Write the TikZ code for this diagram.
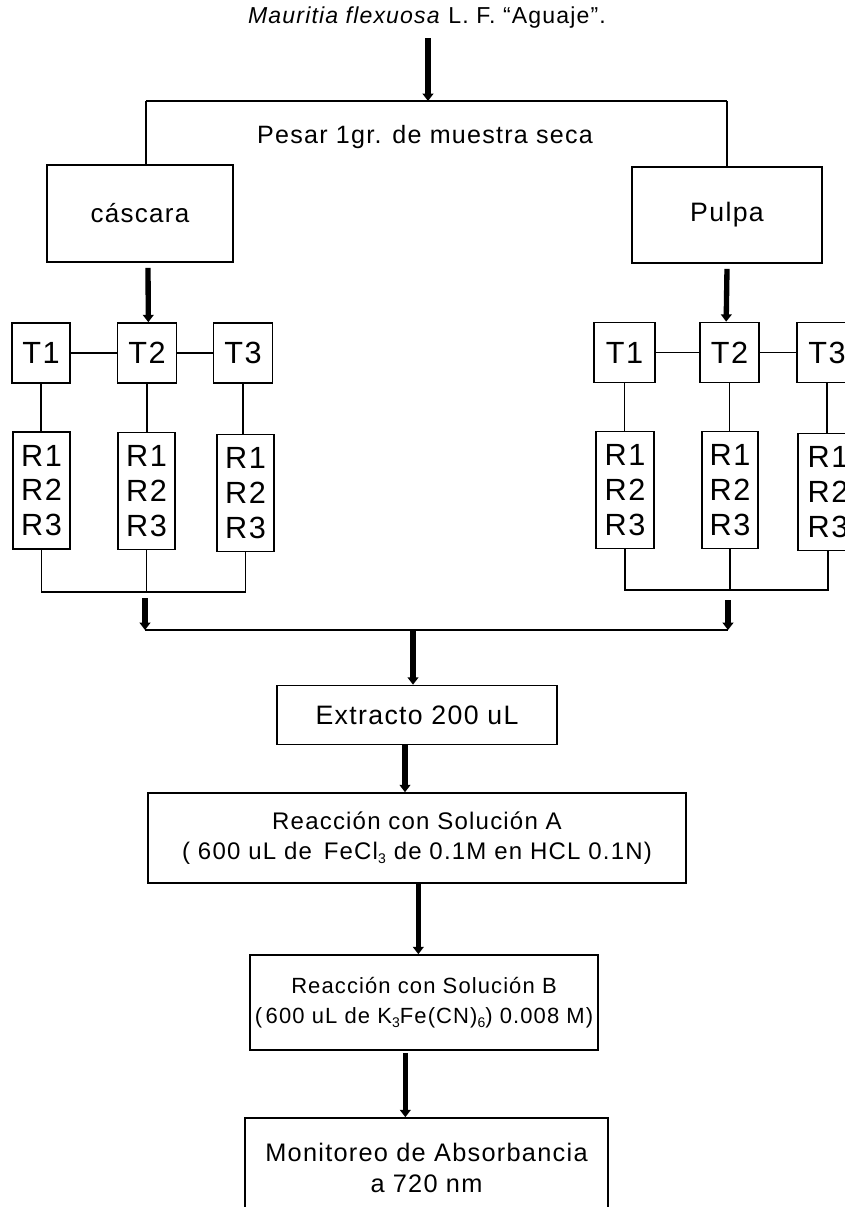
\documentclass[tikz,border=0pt]{standalone}
\usepackage{fontspec}
\setmainfont{Liberation Sans}[LetterSpace=5]
\usetikzlibrary{arrows.meta}
\newcommand\lowsub[1]{\raisebox{-0.3ex}{\fontsize{10.5}{10.5}\selectfont #1}}
\begin{document}
\begin{tikzpicture}[x=0.75pt,y=-0.75pt,
  thin line/.style={line width=1.1pt,black},
  box/.style={draw,line width=1.2pt,rectangle,inner sep=0pt,align=center,font=\fontsize{18}{23}\selectfont},
  tbox/.style={draw,line width=1.2pt,rectangle,inner sep=0pt,align=center,minimum width=59*0.75pt,minimum height=60*0.75pt,font=\fontsize{23}{26}\selectfont},
  rbox/.style={draw,line width=1.2pt,rectangle,inner sep=0pt,align=center,minimum width=57*0.75pt,minimum height=117*0.75pt,font=\fontsize{23}{26}\selectfont},
  txt/.style={inner sep=0pt,font=\fontsize{18}{23}\selectfont},
  bigarrow/.style={line width=4pt,-{Triangle[width=8pt,length=5.5pt]}}
]
\useasboundingbox (0,0) rectangle (845,1207);
\clip (0,0) rectangle (845,1207);
\fill[white] (0,0) rectangle (845,1207);

% title and top split
\node[txt,font=\fontsize{17.3}{22}\selectfont] (title) at (427,18) {\textit{Mauritia flexuosa} L. F. “Aguaje”.};
\node[txt,font=\fontsize{18.8}{23}\selectfont] (pesar) at (425,137) {Pesar 1gr. de muestra seca};
\coordinate (topL) at (146,101);
\coordinate (topR) at (727,101);
\coordinate (topM) at (428,101);

\node[box,minimum width=186*0.75pt,minimum height=97*0.75pt,font=\fontsize{19.5}{23}\selectfont] (casc) at (140,213.5) {cáscara};
\node[box,minimum width=190*0.75pt,minimum height=96*0.75pt,font=\fontsize{20}{23}\selectfont] (pulpa) at (727,215) {Pulpa};

\draw[bigarrow] (428,38) -- (topM);
\draw[thin line] (topL) -- (topR);
\draw[thin line] (topL) -- (topL |- casc.north);
\draw[thin line] (topR) -- (topR |- pulpa.north);

% left group
\node[tbox,minimum width=58*0.75pt] (LT1) at (41,353) {T1};
\node[tbox] (LT2) at (147,353) {T2};
\node[tbox] (LT3) at (243,353) {T3};
\node[rbox] (LR1) at (41.5,490.5) {R1\\R2\\R3};
\node[rbox] (LR2) at (146.5,491) {R1\\R2\\R3};
\node[rbox] (LR3) at (245.5,493) {R1\\R2\\R3};

% right group
\node[tbox,minimum width=61*0.75pt] (RT1) at (624.5,352.5) {T1};
\node[tbox] (RT2) at (729.5,352.5) {T2};
\node[tbox,minimum width=60*0.75pt] (RT3) at (827,352.5) {T3};
\node[rbox,minimum width=58*0.75pt] (RR1) at (625,490) {R1\\R2\\R3};
\node[rbox,minimum width=56*0.75pt] (RR2) at (730,490) {R1\\R2\\R3};
\node[rbox,minimum width=60*0.75pt] (RR3) at (828,492) {R1\\R2\\R3};

\draw[bigarrow] ([xshift=6]casc.south) ++(0,5) -- ([xshift=1]LT2.north);
\draw[bigarrow] (pulpa.south) ++(0,5) -- ([xshift=-2.5]RT2.north);

\foreach \g in {L,R}{
  \draw[thin line] (\g T1) -- (\g T2);
  \draw[thin line] (\g T2) -- (\g T3);
}
\draw[thin line] (LT1.south) -- (LT1.south |- LR1.north);
\draw[thin line] (LT2.south) -- (LT2.south |- LR2.north);
\draw[thin line] (LT3.south) -- (LT3.south |- LR3.north);
\draw[thin line] (RT1.south) -- (RT1.south |- RR1.north);
\draw[thin line] (RT2.south) -- (RT2.south |- RR2.north);
\draw[thin line] (RT3.south) -- (RT3.south |- RR3.north);

\coordinate (Ljoin) at (145,592);
\coordinate (Rjoin) at (730,590);
\draw[thin line] (LR1.south) |- (Ljoin) -| (LR3.south);
\draw[thin line] (LR2.south) -- (LR2.south |- Ljoin);
\draw[thin line] (RR1.south) |- (Rjoin) -| (RR3.south);
\draw[thin line] (RR2.south) -- (RR2.south |- Rjoin);

\coordinate (mergeL) at (145,630);
\coordinate (mergeR) at (728,630);
\coordinate (mergeM) at (413,630);
\draw[bigarrow] (145,598) -- (mergeL);
\draw[bigarrow] (728,600) -- (mergeR);
\draw[thin line] (mergeL) -- (mergeR);

% lower chain
\node[box,minimum width=280*0.75pt,minimum height=59*0.75pt,font=\fontsize{20}{23}\selectfont] (ext) at (417,715) {Extracto 200 uL};
\node[box,minimum width=538*0.75pt,minimum height=90*0.75pt] (solA) at (417,838)
  {Reacción con Solución A\\( 600 uL de\, FeCl\lowsub{3} de 0.1M en HCL 0.1N)};
\node[box,minimum width=348*0.75pt,minimum height=95*0.75pt,font=\fontsize{16.5}{23}\selectfont] (solB) at (424,1002.5)
  {Reacción con Solución B\\(\,600 uL de K\lowsub{3}Fe(CN)\lowsub{6}) 0.008 M)};
\node[box,minimum width=363*0.75pt,minimum height=100*0.75pt,font=\fontsize{19}{23}\selectfont] (mon) at (426.5,1168)
  {Monitoreo de Absorbancia\\a 720 nm};

\draw[bigarrow] (mergeM) -- (mergeM |- ext.north);
\draw[bigarrow] ([xshift=-9]ext.south) -- ([xshift=-9]ext.south |- solA.north);
\draw[bigarrow] ([xshift=1]solA.south) -- ([xshift=1]solA.south |- solB.north);
\draw[bigarrow] ([xshift=-14]solB.south) ++(0,2) -- ([xshift=-14]solB.south |- mon.north);
\end{tikzpicture}
\end{document}
